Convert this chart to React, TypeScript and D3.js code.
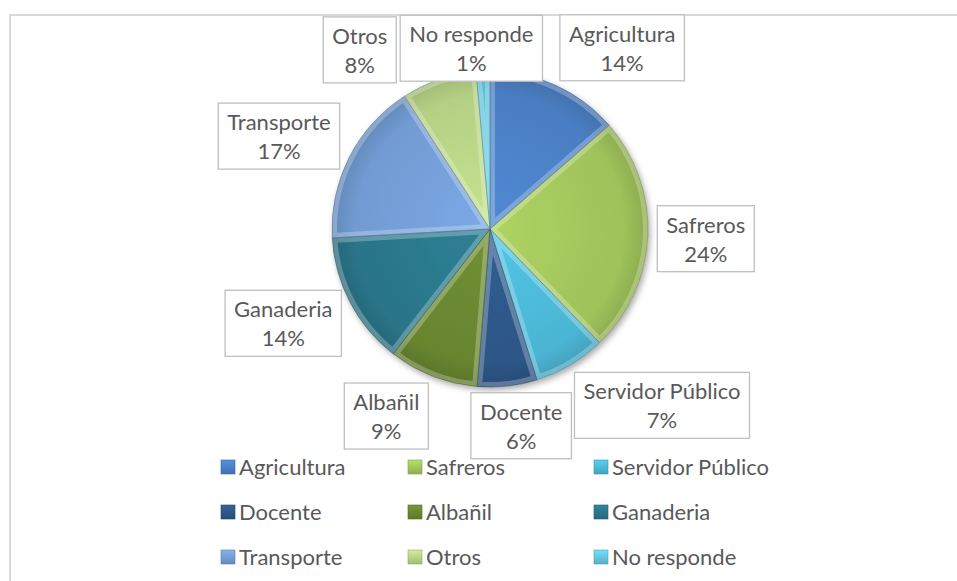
import React, { useEffect, useRef } from 'react';
import * as d3 from 'd3';

// occupation shares (percent)
const categories = ['Agricultura', 'Safreros', 'Servidor Público', 'Docente', 'Albañil', 'Ganaderia', 'Transporte', 'Otros', 'No responde'];
const shares = [13.6, 24.2, 7.4, 6.1, 9.2, 13.6, 16.8, 7.7, 1.4];
const colors = ['#4A7EC2', '#9FC25A', '#4BB5D3', '#2D5686', '#67852F', '#2A7588', '#719BD2', '#B5D084', '#63C3DC'];

// manual label moves (Excel "best fit" positions), relative to the label arc centroid
const labelNudge = [[41, 19], [-4, 0], [60, -13], [7, -22], [-24, -18], [-12, -8], [-15, 7], [-59, 29], [-9, 39]];

const W = 957;
const H = 581;

export default function App() {
  const ref = useRef<SVGSVGElement>(null);

  useEffect(() => {
    const svg = d3.select(ref.current);
    svg.selectAll('*').remove();

    const font = 'Lato, Calibri, sans-serif';
    const txtColor = '#595959';

    // chart area frame (runs off the right / bottom)
    svg.append('rect')
      .attr('x', 10).attr('y', 15)
      .attr('width', W + 20).attr('height', H + 20)
      .attr('fill', '#fff').attr('stroke', '#D9D9D9').attr('stroke-width', 2);

    const defs = svg.append('defs');
    const shadow = defs.append('filter').attr('id', 'pieShadow')
      .attr('x', '-20%').attr('y', '-20%').attr('width', '140%').attr('height', '140%');
    shadow.append('feDropShadow')
      .attr('dx', 2).attr('dy', 3).attr('stdDeviation', 3)
      .attr('flood-color', '#000').attr('flood-opacity', 0.35);

    const cx = 490;
    const cy = 229;
    const r = 158;

    const pie = d3.pie<number>().value(d => d).sort(null);
    const arcs = pie(shares);
    const arc = d3.arc<d3.PieArcDatum<number>>().innerRadius(0).outerRadius(r);
    const labelArc = d3.arc<d3.PieArcDatum<number>>().innerRadius(220).outerRadius(220);

    const g = svg.append('g').attr('transform', `translate(${cx},${cy})`);
    const slices = g.append('g').attr('filter', 'url(#pieShadow)');

    arcs.forEach((a, i) => {
      // clip paths live in the group's coords since they are used inside g
      defs.append('clipPath').attr('id', 'clip' + i)
        .append('path').attr('d', arc(a) as string);

      const base = d3.color(colors[i])!;
      const grad = defs.append('radialGradient').attr('id', 'grad' + i)
        .attr('gradientUnits', 'userSpaceOnUse')
        .attr('cx', 0).attr('cy', 0).attr('r', r);
      grad.append('stop').attr('offset', '0%').attr('stop-color', base.brighter(0.25).formatHex());
      grad.append('stop').attr('offset', '85%').attr('stop-color', colors[i]);
      grad.append('stop').attr('offset', '100%').attr('stop-color', base.darker(0.35).formatHex());

      slices.append('path')
        .attr('d', arc(a) as string)
        .attr('fill', `url(#grad${i})`);
    });

    // bevel: light inner edge clipped to each slice, thin dark seam
    arcs.forEach((a, i) => {
      g.append('path')
        .attr('d', arc(a) as string)
        .attr('clip-path', `url(#clip${i})`)
        .attr('fill', 'none')
        .attr('stroke', '#fff').attr('stroke-opacity', 0.25).attr('stroke-width', 10);
      g.append('path')
        .attr('d', arc(a) as string)
        .attr('fill', 'none')
        .attr('stroke', d3.color(colors[i])!.darker(1).formatHex())
        .attr('stroke-opacity', 0.6).attr('stroke-width', 0.8);
    });

    // data labels
    const labels = svg.append('g');
    arcs.forEach((a, i) => {
      const [lx, ly] = labelArc.centroid(a);
      const x = cx + lx + labelNudge[i][0];
      const y = cy + ly + labelNudge[i][1];
      const lg = labels.append('g').attr('transform', `translate(${x},${y})`);
      const box = lg.append('rect');
      const t = lg.append('text')
        .attr('text-anchor', 'middle')
        .attr('font-family', font).attr('font-size', 22).attr('fill', txtColor);
      t.append('tspan').attr('x', 0).attr('y', -6).text(categories[i]);
      t.append('tspan').attr('x', 0).attr('y', 23).text(Math.round(a.data) + '%');
      const bw = (t.node() as SVGTextElement).getBBox().width + 18;
      const bh = 66;
      box.attr('x', -bw / 2).attr('y', -bh / 2)
        .attr('width', bw).attr('height', bh)
        .attr('fill', '#fff').attr('stroke', '#BFBFBF').attr('stroke-width', 1.3);
    });

    // legend, 3 columns
    const colX = [221, 408, 594];
    const rowY = [467, 512, 557];
    const legend = svg.append('g');
    categories.forEach((c, i) => {
      const x = colX[i % 3];
      const y = rowY[Math.floor(i / 3)];
      const base = d3.color(colors[i])!;
      const lgrad = defs.append('linearGradient').attr('id', 'lg' + i)
        .attr('x1', 0).attr('y1', 0).attr('x2', 0).attr('y2', 1);
      lgrad.append('stop').attr('offset', '0%').attr('stop-color', base.brighter(0.4).formatHex());
      lgrad.append('stop').attr('offset', '100%').attr('stop-color', base.darker(0.3).formatHex());
      legend.append('rect')
        .attr('x', x).attr('y', y - 7)
        .attr('width', 14).attr('height', 14)
        .attr('fill', `url(#lg${i})`)
        .attr('stroke', base.darker(0.6).formatHex()).attr('stroke-width', 0.6);
      legend.append('text')
        .attr('x', x + 18).attr('y', y + 8)
        .attr('font-family', font).attr('font-size', 22).attr('fill', txtColor)
        .text(c);
    });
  }, []);

  return (
    <div style={{ position: 'absolute', left: 0, top: 0 }}>
      <svg ref={ref} width={W} height={H} style={{ display: 'block', background: '#fff' }} />
    </div>
  );
}
